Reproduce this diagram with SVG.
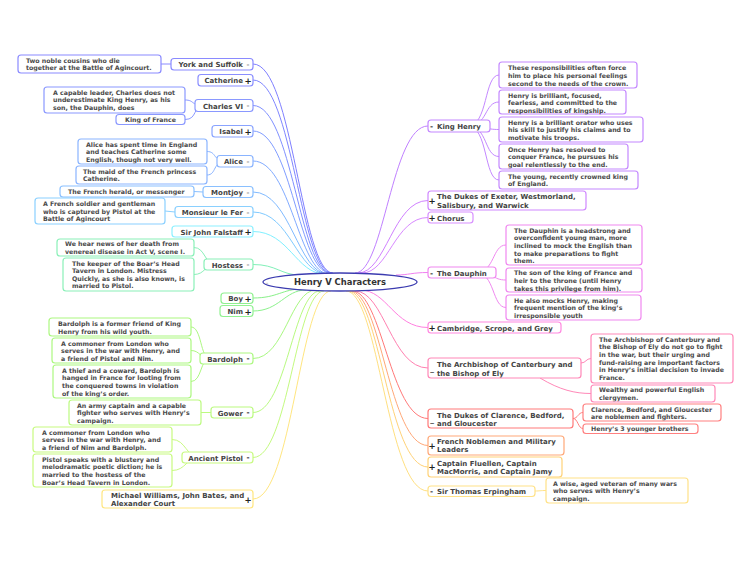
<svg xmlns="http://www.w3.org/2000/svg" width="750" height="563" viewBox="0 0 750 563">
<style>
rect{fill:#fff;stroke-width:1.2}
.nt{font-family:"DejaVu Sans",Verdana,sans-serif;font-weight:bold;font-size:6.25px;fill:#4a4a4a}
.tp{font-family:"DejaVu Sans",Verdana,sans-serif;font-weight:bold;font-size:7px;fill:#444}
.pl{font-family:"DejaVu Sans",Verdana,sans-serif;font-weight:bold;font-size:8.5px;fill:#222;text-anchor:middle}
.mi{font-family:"DejaVu Sans",Verdana,sans-serif;font-weight:bold;font-size:7px;fill:#999;text-anchor:middle}
.md{font-family:"DejaVu Sans",Verdana,sans-serif;font-weight:bold;font-size:7.5px;fill:#333;text-anchor:middle}
#connectors path{fill:none;stroke-width:1}
</style>
<rect x="0" y="0" width="750" height="563" style="fill:#fff;stroke:none"/>
<g id="connectors">
<path d="M253,64 C293,64 301,273 333,273" stroke="#7f7fff"/>
<path d="M253,80 C292.5,80 300.4,273 332,273" stroke="#7f86ff"/>
<path d="M253,105.5 C292,105.5 299.8,273 331,273" stroke="#7f90ff"/>
<path d="M253,131 C291.5,131 299.2,273 330,273" stroke="#7f9cff"/>
<path d="M253,161 C291,161 298.6,274 329,274" stroke="#80aaff"/>
<path d="M253,192 C290.5,192 298,274 328,274" stroke="#80baff"/>
<path d="M253,212 C290,212 297.4,274 327,274" stroke="#80caff"/>
<path d="M253,231.5 C289,231.5 296.2,274 325,274" stroke="#80f0ff"/>
<path d="M253,264.5 C276.5,264.5 281,275 300,275" stroke="#80f0b8"/>
<path d="M253,298 C277.5,298 282.4,289 302,289" stroke="#88f088"/>
<path d="M253,311 C279.5,311 284.8,290 306,290" stroke="#8cf28c"/>
<path d="M253,358.5 C284.5,358.5 290.8,290 316,290" stroke="#a8f880"/>
<path d="M253,412.5 C286.5,412.5 293.2,291 320,291" stroke="#b8fa80"/>
<path d="M253,457.5 C288.5,457.5 295.6,291 324,291" stroke="#c4fa80"/>
<path d="M253,499 C292,499 300,291 331,291" stroke="#ffe680"/>
<path d="M428,126 C391.5,126 384.2,273 355,273" stroke="#c080ff"/>
<path d="M428,200.5 C393,200.5 386,273 358,273" stroke="#d080ff"/>
<path d="M428,217.5 C395,217.5 388.4,273 362,273" stroke="#d888ff"/>
<path d="M428,272.5 C412,272.5 408.8,275 396,275" stroke="#f080f0"/>
<path d="M428,327.5 C394,327.5 387.2,290 360,290" stroke="#ff80e0"/>
<path d="M428,368 C391.5,368 384.2,291 355,291" stroke="#ff80b0"/>
<path d="M428,418.5 C390,418.5 382.4,291 352,291" stroke="#ff7878"/>
<path d="M428,445.5 C389,445.5 381.2,291 350,291" stroke="#ffa878"/>
<path d="M428,467 C388,467 380,291 348,291" stroke="#ffd278"/>
<path d="M428,491 C387,491 378.8,291 346,291" stroke="#ffe080"/>
<path d="M171,64 L161,64" stroke="#8a8aff"/>
<path d="M205,105.5 C190,105.5 195,100 185,100" stroke="#8a98ff"/>
<path d="M205,105.5 C192,105.5 198,119.5 185,119.5" stroke="#8a98ff"/>
<path d="M227,161 C212,161 217,151.5 207,151.5" stroke="#8ab4ff"/>
<path d="M227,161 C212,161 217,175 207,175" stroke="#8ab4ff"/>
<path d="M203,192 L194,191.5" stroke="#8ac0ff"/>
<path d="M175,212 L165,211" stroke="#8ad0ff"/>
<path d="M215,264.5 C205,264.5 205,247.5 194,247.5" stroke="#8af0b8"/>
<path d="M215,264.5 C205,264.5 205,274.5 194,274.5" stroke="#8af0b8"/>
<path d="M210,358.5 C200,358.5 202,327 191,327" stroke="#acf880"/>
<path d="M210,358.5 C200,358.5 200,350.5 191,350.5" stroke="#acf880"/>
<path d="M210,358.5 C200,358.5 202,381.5 191,381.5" stroke="#acf880"/>
<path d="M211,412.5 L201,412.5" stroke="#bcfa80"/>
<path d="M200,457.5 C186,457.5 186,439.5 172,439.5" stroke="#c8fa80"/>
<path d="M200,457.5 C186,457.5 186,470.5 172,470.5" stroke="#c8fa80"/>
<path d="M468,126 C488,126 484,75 499,75" stroke="#c488ff"/>
<path d="M468,126 C488,126 484,102 499,102" stroke="#c488ff"/>
<path d="M468,126 C488,126 484,129.5 499,129.5" stroke="#c488ff"/>
<path d="M468,126 C488,126 484,156.5 499,156.5" stroke="#c488ff"/>
<path d="M468,126 C488,126 484,180 499,180" stroke="#c488ff"/>
<path d="M476,272.5 C495,272.5 492,245 506,245" stroke="#f088f0"/>
<path d="M476,272.5 C495,272.5 492,280 506,280" stroke="#f088f0"/>
<path d="M476,272.5 C495,272.5 492,307.5 506,307.5" stroke="#f088f0"/>
<path d="M581,363 C586,363 586,358.5 591,358.5" stroke="#ff88b8"/>
<path d="M540,378 C560,390 575,393.5 591,393.5" stroke="#ff88b8"/>
<path d="M573,418.5 C578,418.5 578,412.5 583,412.5" stroke="#ff8080"/>
<path d="M573,418.5 C578,418.5 578,428.5 583,428.5" stroke="#ff8080"/>
<path d="M535,491 C540,491 540,490.5 546,490.5" stroke="#ffe288"/>
</g>

<g id="root">
<ellipse cx="340" cy="282" rx="77" ry="9" fill="#fff" stroke="#3c3cb0" stroke-width="1.3"/>
<text x="340" y="285.3" text-anchor="middle" style="font-family:'DejaVu Sans',Verdana,sans-serif;font-weight:bold;font-size:8.4px;fill:#333">Henry V Characters</text>
<text x="267" y="284.5" class="mi" style="font-size:6px;fill:#bbb">-</text>
</g>

<g id="york">
<rect x="171" y="58.5" width="82" height="11.5" rx="3" stroke="#8a8aff"/>
<text x="243" y="67" class="tp" text-anchor="end">York and Suffolk</text>
<text x="248" y="66.5" class="mi">-</text>
<rect x="18" y="55" width="143" height="18" rx="3" stroke="#8a8aff"/>
<text class="nt"><tspan x="26" y="62.5">Two noble cousins who die</tspan><tspan x="26" y="70.3">together at the Battle of Agincourt.</tspan></text>
</g>

<g id="catherine">
<rect x="198" y="74.5" width="55" height="11.5" rx="3" stroke="#8a8eff"/>
<text x="243" y="83" class="tp" text-anchor="end">Catherine</text>
<text x="248" y="83.5" class="pl">+</text>
</g>

<g id="charles">
<rect x="195" y="99.5" width="58" height="12" rx="3" stroke="#8a98ff"/>
<text x="243" y="108.5" class="tp" text-anchor="end">Charles VI</text>
<text x="248" y="108" class="mi">-</text>
<rect x="44" y="87" width="141" height="26" rx="3" stroke="#8a98ff"/>
<text class="nt"><tspan x="53" y="94.5">A capable leader, Charles does not</tspan><tspan x="53" y="102.3">underestimate King Henry, as his</tspan><tspan x="53" y="110.1">son, the Dauphin, does</tspan></text>
<rect x="116" y="114.5" width="69" height="10" rx="3" stroke="#8a98ff"/>
<text x="150.5" y="122" class="nt" text-anchor="middle">King of France</text>
</g>

<g id="isabel">
<rect x="212" y="125.5" width="41" height="11.5" rx="3" stroke="#8aa4ff"/>
<text x="243" y="134" class="tp" text-anchor="end">Isabel</text>
<text x="248" y="134.5" class="pl">+</text>
</g>

<g id="alice">
<rect x="217" y="155.5" width="36" height="11.5" rx="3" stroke="#8ab4ff"/>
<text x="243" y="164" class="tp" text-anchor="end">Alice</text>
<text x="248" y="163.5" class="mi">-</text>
<rect x="78" y="139" width="129" height="25" rx="3" stroke="#8ab4ff"/>
<text class="nt"><tspan x="86" y="146.5">Alice has spent time in England</tspan><tspan x="86" y="154.3">and teaches Catherine some</tspan><tspan x="86" y="162">English, though not very well.</tspan></text>
<rect x="76" y="166" width="131" height="18" rx="3" stroke="#8ab4ff"/>
<text class="nt"><tspan x="83" y="173.5">The maid of the French princess</tspan><tspan x="83" y="181.3">Catherine.</tspan></text>
</g>

<g id="montjoy">
<rect x="203" y="186.5" width="50" height="11" rx="3" stroke="#8ac0ff"/>
<text x="243" y="194.8" class="tp" text-anchor="end">Montjoy</text>
<text x="248" y="194.5" class="mi">-</text>
<rect x="60" y="186" width="134" height="11" rx="3" stroke="#8ac0ff"/>
<text x="68" y="193.8" class="nt">The French herald, or messenger</text>
</g>

<g id="monsieur">
<rect x="175" y="206.5" width="78" height="11" rx="3" stroke="#8ad0ff"/>
<text x="243" y="214.8" class="tp" text-anchor="end">Monsieur le Fer</text>
<text x="248" y="214.5" class="mi">-</text>
<rect x="35" y="198" width="130" height="26" rx="3" stroke="#8ad0ff"/>
<text class="nt"><tspan x="43" y="206">A French soldier and gentleman</tspan><tspan x="43" y="213.7">who is captured by Pistol at the</tspan><tspan x="43" y="221.3">Battle of Agincourt</tspan></text>
</g>

<g id="falstaff">
<rect x="172" y="226" width="81" height="11" rx="3" stroke="#8cf0ff"/>
<text x="243" y="234.5" class="tp" text-anchor="end">Sir John Falstaff</text>
<text x="248" y="235" class="pl">+</text>
</g>

<g id="hostess">
<rect x="204" y="259" width="49" height="11" rx="3" stroke="#8af0b8"/>
<text x="243" y="267.5" class="tp" text-anchor="end">Hostess</text>
<text x="248" y="267" class="mi">-</text>
<rect x="57" y="239" width="137" height="17" rx="3" stroke="#8af0b8"/>
<text class="nt"><tspan x="65" y="246.3">We hear news of her death from</tspan><tspan x="65" y="253.8">venereal disease in Act V, scene I.</tspan></text>
<rect x="63" y="258" width="131" height="33" rx="3" stroke="#8af0b8"/>
<text class="nt"><tspan x="72" y="265.5">The keeper of the Boar’s Head</tspan><tspan x="72" y="273.2">Tavern in London. Mistress</tspan><tspan x="72" y="280.8">Quickly, as she is also known, is</tspan><tspan x="72" y="288.4">married to Pistol.</tspan></text>
</g>

<g id="boy">
<rect x="221" y="293" width="32" height="10.5" rx="3" stroke="#90f090"/>
<text x="243" y="301.2" class="tp" text-anchor="end">Boy</text>
<text x="248" y="301.8" class="pl">+</text>
</g>

<g id="nim">
<rect x="220" y="305.5" width="33" height="11" rx="3" stroke="#92f292"/>
<text x="243" y="314" class="tp" text-anchor="end">Nim</text>
<text x="248" y="314.5" class="pl">+</text>
</g>

<g id="bardolph">
<rect x="200" y="353" width="53" height="11" rx="3" stroke="#acf880"/>
<text x="243" y="361.5" class="tp" text-anchor="end">Bardolph</text>
<text x="248" y="361" class="md">-</text>
<rect x="49" y="318" width="142" height="18" rx="3" stroke="#acf880"/>
<text class="nt"><tspan x="58" y="325.5">Bardolph is a former friend of King</tspan><tspan x="58" y="333.5">Henry from his wild youth.</tspan></text>
<rect x="52" y="338" width="139" height="25" rx="3" stroke="#acf880"/>
<text class="nt"><tspan x="61" y="345.5">A commoner from London who</tspan><tspan x="61" y="353.2">serves in the war with Henry, and</tspan><tspan x="61" y="360.8">a friend of Pistol and Nim.</tspan></text>
<rect x="53" y="365" width="138" height="33" rx="3" stroke="#acf880"/>
<text class="nt"><tspan x="62" y="372.5">A thief and a coward, Bardolph is</tspan><tspan x="62" y="380.2">hanged in France for looting from</tspan><tspan x="62" y="387.9">the conquered towns in violation</tspan><tspan x="62" y="395.6">of the king’s order.</tspan></text>
</g>

<g id="gower">
<rect x="211" y="407" width="42" height="11" rx="3" stroke="#bcfa80"/>
<text x="243" y="415.5" class="tp" text-anchor="end">Gower</text>
<text x="248" y="415" class="md">-</text>
<rect x="69" y="400" width="132" height="25" rx="3" stroke="#bcfa80"/>
<text class="nt"><tspan x="77" y="407.5">An army captain and a capable</tspan><tspan x="77" y="415.2">fighter who serves with Henry’s</tspan><tspan x="77" y="422.8">campaign.</tspan></text>
</g>

<g id="pistol">
<rect x="182" y="452" width="71" height="11" rx="3" stroke="#c8fa80"/>
<text x="243" y="460.5" class="tp" text-anchor="end">Ancient Pistol</text>
<text x="248" y="460" class="md">-</text>
<rect x="33" y="427" width="139" height="25" rx="3" stroke="#c8fa80"/>
<text class="nt"><tspan x="42" y="434.5">A commoner from London who</tspan><tspan x="42" y="442.2">serves in the war with Henry, and</tspan><tspan x="42" y="449.8">a friend of Nim and Bardolph.</tspan></text>
<rect x="33" y="454" width="139" height="33" rx="3" stroke="#c8fa80"/>
<text class="nt"><tspan x="42" y="461.5">Pistol speaks with a blustery and</tspan><tspan x="42" y="469.2">melodramatic poetic diction; he is</tspan><tspan x="42" y="476.9">married to the hostess of the</tspan><tspan x="42" y="484.5">Boar’s Head Tavern in London.</tspan></text>
</g>

<g id="williams">
<rect x="102" y="490" width="151" height="18" rx="3" stroke="#ffe680"/>
<text class="tp"><tspan x="111" y="497.5">Michael Williams, John Bates, and</tspan><tspan x="111" y="505.8">Alexander Court</tspan></text>
<text x="248" y="502.5" class="pl">+</text>
</g>

<g id="kinghenry">
<rect x="428" y="120" width="62" height="12" rx="3" stroke="#c488ff"/>
<text x="431.5" y="128.8" class="md">-</text>
<text x="437" y="129" class="tp">King Henry</text>
<rect x="499" y="62" width="138" height="26" rx="3" stroke="#c488ff"/>
<text class="nt"><tspan x="508" y="70">These responsibilities often force</tspan><tspan x="508" y="77.8">him to place his personal feelings</tspan><tspan x="508" y="85.5">second to the needs of the crown.</tspan></text>
<rect x="499" y="90" width="127" height="24" rx="3" stroke="#c488ff"/>
<text class="nt"><tspan x="508" y="97.5">Henry is brilliant, focused,</tspan><tspan x="508" y="105.2">fearless, and committed to the</tspan><tspan x="508" y="112.8">responsibilities of kingship.</tspan></text>
<rect x="499" y="117" width="144" height="25" rx="3" stroke="#c488ff"/>
<text class="nt"><tspan x="508" y="124.5">Henry is a brilliant orator who uses</tspan><tspan x="508" y="132.2">his skill to justify his claims and to</tspan><tspan x="508" y="139.8">motivate his troops.</tspan></text>
<rect x="499" y="144" width="129" height="25" rx="3" stroke="#c488ff"/>
<text class="nt"><tspan x="508" y="151.5">Once Henry has resolved to</tspan><tspan x="508" y="159.2">conquer France, he pursues his</tspan><tspan x="508" y="166.8">goal relentlessly to the end.</tspan></text>
<rect x="499" y="171" width="139" height="18" rx="3" stroke="#c488ff"/>
<text class="nt"><tspan x="508" y="178.5">The young, recently crowned king</tspan><tspan x="508" y="186.2">of England.</tspan></text>
</g>

<g id="exeter">
<rect x="428" y="191" width="158" height="19" rx="3" stroke="#d088ff"/>
<text x="432" y="203.5" class="pl">+</text>
<text class="tp"><tspan x="437" y="199">The Dukes of Exeter, Westmorland,</tspan><tspan x="437" y="207.5">Salisbury, and Warwick</tspan></text>
</g>

<g id="chorus">
<rect x="428" y="212" width="45" height="11" rx="3" stroke="#d890ff"/>
<text x="432" y="220.8" class="pl">+</text>
<text x="437" y="220.5" class="tp">Chorus</text>
</g>

<g id="dauphin">
<rect x="428" y="267" width="68" height="11" rx="3" stroke="#f088f0"/>
<text x="431.5" y="275.5" class="md">-</text>
<text x="437" y="275.5" class="tp">The Dauphin</text>
<rect x="506" y="225" width="136" height="40" rx="3" stroke="#f088f0"/>
<text class="nt"><tspan x="514" y="232.5">The Dauphin is a headstrong and</tspan><tspan x="514" y="240.2">overconfident young man, more</tspan><tspan x="514" y="247.9">inclined to mock the English than</tspan><tspan x="514" y="255.6">to make preparations to fight</tspan><tspan x="514" y="263.2">them.</tspan></text>
<rect x="506" y="268" width="136" height="24" rx="3" stroke="#f088f0"/>
<text class="nt"><tspan x="514" y="275.2">The son of the king of France and</tspan><tspan x="514" y="282.9">heir to the throne (until Henry</tspan><tspan x="514" y="290.5">takes this privilege from him).</tspan></text>
<rect x="506" y="295" width="135" height="25" rx="3" stroke="#f088f0"/>
<text class="nt"><tspan x="514" y="302.5">He also mocks Henry, making</tspan><tspan x="514" y="310.2">frequent mention of the king’s</tspan><tspan x="514" y="317.8">irresponsible youth</tspan></text>
</g>

<g id="cambridge">
<rect x="428" y="322" width="133" height="11" rx="3" stroke="#ff88e0"/>
<text x="432" y="330.8" class="pl">+</text>
<text x="437" y="330.5" class="tp">Cambridge, Scrope, and Grey</text>
</g>

<g id="archbishop">
<rect x="428" y="358" width="153" height="20" rx="3" stroke="#ff88b8"/>
<text x="432" y="371" class="md">_</text>
<text class="tp"><tspan x="437" y="367">The Archbishop of Canterbury and</tspan><tspan x="437" y="375.5">the Bishop of Ely</tspan></text>
<rect x="591" y="334" width="142" height="49" rx="3" stroke="#ff88b8"/>
<text class="nt"><tspan x="599" y="341.5">The Archbishop of Canterbury and</tspan><tspan x="599" y="349.2">the Bishop of Ely do not go to fight</tspan><tspan x="599" y="356.9">in the war, but their urging and</tspan><tspan x="599" y="364.6">fund-raising are important factors</tspan><tspan x="599" y="372.3">in Henry’s initial decision to invade</tspan><tspan x="599" y="380">France.</tspan></text>
<rect x="591" y="385" width="124" height="17" rx="3" stroke="#ff88b8"/>
<text class="nt"><tspan x="599" y="392.3">Wealthy and powerful English</tspan><tspan x="599" y="400">clergymen.</tspan></text>
</g>

<g id="clarence">
<rect x="428" y="409" width="145" height="19" rx="3" stroke="#ff7a7a"/>
<text x="432" y="421.5" class="md">_</text>
<text class="tp"><tspan x="437" y="418">The Dukes of Clarence, Bedford,</tspan><tspan x="437" y="426.3">and Gloucester</tspan></text>
<rect x="583" y="404" width="138" height="17" rx="3" stroke="#ff8080"/>
<text class="nt"><tspan x="591" y="411.5">Clarence, Bedford, and Gloucester</tspan><tspan x="591" y="419.2">are noblemen and fighters.</tspan></text>
<rect x="583" y="424" width="115" height="9.5" rx="3" stroke="#ff8080"/>
<text x="591" y="431.2" class="nt">Henry’s 3 younger brothers</text>
</g>

<g id="french">
<rect x="428" y="436" width="136" height="19" rx="3" stroke="#ffa878"/>
<text x="432" y="448.5" class="pl">+</text>
<text class="tp"><tspan x="437" y="444">French Noblemen and Military</tspan><tspan x="437" y="452.3">Leaders</tspan></text>
</g>

<g id="fluellen">
<rect x="428" y="457" width="134" height="20" rx="3" stroke="#ffd278"/>
<text x="432" y="470" class="pl">+</text>
<text class="tp"><tspan x="437" y="465.5">Captain Fluellen, Captain</tspan><tspan x="437" y="474">MacMorris, and Captain Jamy</tspan></text>
</g>

<g id="erpingham">
<rect x="428" y="486" width="107" height="10.5" rx="3" stroke="#ffe288"/>
<text x="431.5" y="494" class="md">-</text>
<text x="437" y="494" class="tp">Sir Thomas Erpingham</text>
<rect x="546" y="478" width="142" height="25" rx="3" stroke="#ffe288"/>
<text class="nt"><tspan x="553" y="485.5">A wise, aged veteran of many wars</tspan><tspan x="553" y="493.2">who serves with Henry’s</tspan><tspan x="553" y="500.8">campaign.</tspan></text>
</g>
</svg>
